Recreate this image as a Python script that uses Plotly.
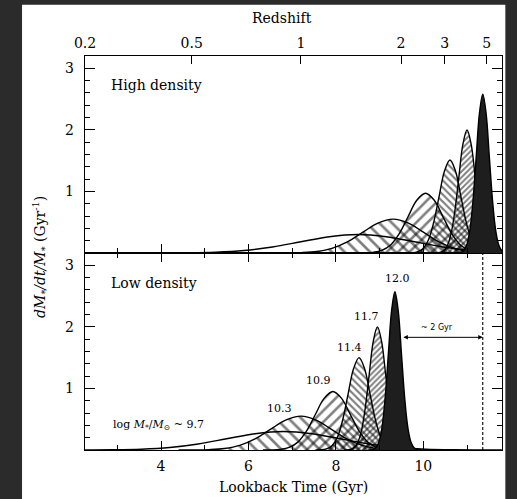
import plotly.graph_objects as go

# ---------------- data ----------------
mass_labels = ["9.7", "10.3", "10.9", "11.4", "11.7", "12.0"]

# Low density panel: lookback time (Gyr) and dM*/dt/M* (Gyr^-1)
low_t_97 = [1.6, 2.25, 2.9, 3.55, 4.2, 4.85, 5.5, 6.15, 6.8, 7.45, 8.1, 8.75, 9.4, 10.05, 10.7, 11.35, 12.0]
low_v_97 = [0.0, 0.001, 0.003, 0.013, 0.041, 0.098, 0.182, 0.265, 0.30, 0.265, 0.182, 0.098, 0.041, 0.013, 0.003, 0.001, 0.0]
low_t_103 = [4.4, 4.75, 5.1, 5.45, 5.8, 6.15, 6.5, 6.85, 7.2, 7.55, 7.9, 8.25, 8.6, 8.95, 9.3, 9.65, 10.0]
low_v_103 = [0.0, 0.001, 0.006, 0.024, 0.074, 0.179, 0.334, 0.485, 0.55, 0.485, 0.334, 0.179, 0.074, 0.024, 0.006, 0.001, 0.0]
low_t_109 = [6.33, 6.53, 6.73, 6.93, 7.13, 7.33, 7.53, 7.73, 7.93, 8.13, 8.33, 8.53, 8.73, 8.93, 9.13, 9.33, 9.53]
low_v_109 = [0.0, 0.002, 0.011, 0.042, 0.128, 0.309, 0.577, 0.838, 0.95, 0.838, 0.577, 0.309, 0.128, 0.042, 0.011, 0.002, 0.0]
low_t_114 = [7.53, 7.655, 7.78, 7.905, 8.03, 8.155, 8.28, 8.405, 8.53, 8.655, 8.78, 8.905, 9.03, 9.155, 9.28, 9.405, 9.53]
low_v_114 = [0.0, 0.003, 0.017, 0.066, 0.203, 0.488, 0.911, 1.323, 1.5, 1.323, 0.911, 0.488, 0.203, 0.066, 0.017, 0.003, 0.0]
low_t_117 = [8.19, 8.285, 8.38, 8.475, 8.57, 8.665, 8.76, 8.855, 8.95, 9.045, 9.14, 9.235, 9.33, 9.425, 9.52, 9.615, 9.71]
low_v_117 = [0.001, 0.004, 0.022, 0.088, 0.27, 0.65, 1.214, 1.764, 2.0, 1.764, 1.214, 0.65, 0.27, 0.088, 0.022, 0.004, 0.001]
low_t_120 = [8.75, 8.825, 8.9, 8.975, 9.05, 9.125, 9.2, 9.275, 9.35, 9.425, 9.5, 9.575, 9.65, 9.725, 9.8, 9.875, 9.95]
low_v_120 = [0.001, 0.006, 0.028, 0.113, 0.347, 0.835, 1.56, 2.267, 2.57, 2.267, 1.56, 0.835, 0.347, 0.113, 0.028, 0.006, 0.001]

# High density panel
high_t_97 = [3.3, 3.95, 4.6, 5.25, 5.9, 6.55, 7.2, 7.85, 8.5, 9.15, 9.8, 10.45, 11.1, 11.75, 12.4]
high_v_97 = [0.0, 0.001, 0.003, 0.013, 0.041, 0.098, 0.182, 0.265, 0.30, 0.265, 0.182, 0.098, 0.041, 0.013, 0.003]
high_t_103 = [6.51, 6.86, 7.21, 7.56, 7.91, 8.26, 8.61, 8.96, 9.31, 9.66, 10.01, 10.36, 10.71, 11.06, 11.41, 11.76, 12.11]
high_v_103 = [0.0, 0.001, 0.006, 0.024, 0.074, 0.179, 0.334, 0.485, 0.55, 0.485, 0.334, 0.179, 0.074, 0.024, 0.006, 0.001, 0.0]
high_t_109 = [8.45, 8.65, 8.85, 9.05, 9.25, 9.45, 9.65, 9.85, 10.05, 10.25, 10.45, 10.65, 10.85, 11.05, 11.25, 11.45, 11.65]
high_v_109 = [0.0, 0.002, 0.011, 0.043, 0.131, 0.315, 0.589, 0.856, 0.97, 0.856, 0.589, 0.315, 0.131, 0.043, 0.011, 0.002, 0.0]
high_t_114 = [9.61, 9.735, 9.86, 9.985, 10.11, 10.235, 10.36, 10.485, 10.61, 10.735, 10.86, 10.985, 11.11, 11.235, 11.36, 11.485, 11.61]
high_v_114 = [0.0, 0.003, 0.017, 0.066, 0.204, 0.491, 0.917, 1.332, 1.51, 1.332, 0.917, 0.491, 0.204, 0.066, 0.017, 0.003, 0.0]
high_t_117 = [10.24, 10.335, 10.43, 10.525, 10.62, 10.715, 10.81, 10.905, 11.0, 11.095, 11.19, 11.285, 11.38, 11.475, 11.57, 11.665, 11.76]
high_v_117 = [0.001, 0.004, 0.022, 0.088, 0.27, 0.65, 1.214, 1.764, 2.0, 1.764, 1.214, 0.65, 0.27, 0.088, 0.022, 0.004, 0.001]
high_t_120 = [10.76, 10.835, 10.91, 10.985, 11.06, 11.135, 11.21, 11.285, 11.36, 11.435, 11.51, 11.585, 11.66, 11.735, 11.81, 11.885, 11.96]
high_v_120 = [0.001, 0.006, 0.028, 0.113, 0.348, 0.838, 1.566, 2.276, 2.58, 2.276, 1.566, 0.838, 0.348, 0.113, 0.028, 0.006, 0.001]

# Axes
lookback_ticks = [4, 6, 8, 10]
y_ticks = [1, 2, 3]
redshift_labels = ["0.2", "0.5", "1", "2", "3", "5"]
redshift_lookback = [2.262, 4.70, 7.20, 9.49, 10.49, 11.45]

# Label positions (lookback, rate) in low-density panel
mass_label_t = [2.86, 6.72, 7.61, 8.30, 8.69, 9.40]
mass_label_v = [0.40, 0.68, 1.13, 1.67, 2.17, 2.79]
peak_offset_start = 9.51   # arrow start (Gyr)
peak_offset_end = 11.36    # dashed line (Gyr)
arrow_level = 1.83

# ---------------- styles ----------------
SERIF = "DejaVu Serif"
fills = [
    dict(fillpattern=None, fillcolor="rgba(0,0,0,0)"),
    dict(fillpattern=dict(shape="\\", size=9, solidity=0.3, fgcolor="black")),
    dict(fillpattern=dict(shape="/", size=8, solidity=0.32, fgcolor="black")),
    dict(fillpattern=dict(shape="\\", size=5, solidity=0.42, fgcolor="black")),
    dict(fillpattern=dict(shape="/", size=4, solidity=0.48, fgcolor="black")),
    dict(fillpattern=None, fillcolor="#1e1e1e"),
]

low = [(low_t_97, low_v_97), (low_t_103, low_v_103), (low_t_109, low_v_109),
       (low_t_114, low_v_114), (low_t_117, low_v_117), (low_t_120, low_v_120)]
high = [(high_t_97, high_v_97), (high_t_103, high_v_103), (high_t_109, high_v_109),
        (high_t_114, high_v_114), (high_t_117, high_v_117), (high_t_120, high_v_120)]

fig = go.Figure()
for panel, (xa, ya) in ((low, ("x", "y")), (high, ("x2", "y2"))):
    for i, (t, v) in enumerate(panel):
        kw = dict(x=t, y=v, xaxis=xa, yaxis=ya, mode="lines", fill="tozeroy",
                  line=dict(color="black", width=1.4, shape="spline", smoothing=1.0),
                  showlegend=False, hoverinfo="skip", name=mass_labels[i])
        f = fills[i]
        if f.get("fillpattern"):
            kw["fillpattern"] = f["fillpattern"]
            kw["fillcolor"] = "rgba(0,0,0,0)"
        else:
            kw["fillcolor"] = f["fillcolor"]
        fig.add_trace(go.Scatter(**kw))

xr = [2.26, 11.8]
yr = [0, 3.2]

# invisible trace so the redshift axis is drawn
fig.add_trace(go.Scatter(x=[redshift_lookback[1]], y=[None], xaxis="x3", yaxis="y2",
                         mode="markers", showlegend=False, hoverinfo="skip"))

axis_common = dict(showline=True, linecolor="black", linewidth=1.4, showgrid=False,
                   zeroline=False, ticks="inside", tickcolor="black", tickwidth=1.2,
                   tickfont=dict(family=SERIF, size=14, color="black"))

fig.update_layout(
    width=517, height=499,
    margin=dict(l=85, r=15, t=56, b=49),
    paper_bgcolor="#2b2b2b", plot_bgcolor="white",
    font=dict(family=SERIF, color="black"),
    xaxis=dict(domain=[0, 1], anchor="y", range=xr, tickvals=lookback_ticks, ticklen=9,
               minor=dict(dtick=1, tick0=0, ticklen=5, ticks="inside", tickcolor="black", tickwidth=1.2),
               mirror="ticks", ticklabelstandoff=3, **axis_common),
    yaxis=dict(domain=[0, 0.5], anchor="x", range=yr, tickvals=y_ticks, ticklen=10,
               minor=dict(dtick=0.2, tick0=0, ticklen=5, ticks="inside", tickcolor="black", tickwidth=1.2),
               mirror="ticks", ticklabelstandoff=7, **axis_common),
    xaxis2=dict(domain=[0, 1], anchor="y2", range=xr, matches="x", tickvals=lookback_ticks, ticklen=9,
                showticklabels=False,
                minor=dict(dtick=1, tick0=0, ticklen=5, ticks="inside", tickcolor="black", tickwidth=1.2),
                mirror=True, **axis_common),
    yaxis2=dict(domain=[0.5, 1], anchor="x2", range=yr, tickvals=y_ticks, ticklen=10,
                minor=dict(dtick=0.2, tick0=0, ticklen=5, ticks="inside", tickcolor="black", tickwidth=1.2),
                mirror="ticks", ticklabelstandoff=7, **axis_common),
    xaxis3=dict(overlaying="x2", anchor="y2", side="top", range=xr,
                tickmode="array", tickvals=redshift_lookback, ticktext=redshift_labels, ticklen=8,
                ticklabelstandoff=4, showticklabels=True,
                showline=False, showgrid=False, zeroline=False, ticks="inside",
                tickcolor="black", tickwidth=1.2,
                tickfont=dict(family=SERIF, size=14, color="black")),
)

# white figure sheet on dark page
fig.add_shape(type="rect", xref="paper", yref="paper", x0=-0.151, x1=1.008, y0=-0.14, y1=1.13,
              fillcolor="white", line=dict(width=0), layer="below")

# dashed line in low-density panel
fig.add_shape(type="line", xref="x", yref="y", x0=peak_offset_end, x1=peak_offset_end, y0=yr[0], y1=yr[1],
              line=dict(color="black", width=1.1, dash="3px,2px"))

ann = []
def note(**kw):
    kw.setdefault("showarrow", False)
    kw.setdefault("xanchor", "center")
    kw.setdefault("yanchor", "middle")
    ann.append(kw)

note(text="Redshift", xref="paper", yref="paper", x=0.472, y=1.0964, font=dict(size=14, family=SERIF))
note(text="Lookback Time (Gyr)", xref="paper", yref="paper", x=0.5, y=-0.094, font=dict(size=14, family=SERIF))
note(text="<i>dM</i><sub>*</sub><i>/dt/M</i><sub>*</sub> (Gyr<sup>-1</sup>)",
     xref="paper", yref="paper", x=-0.108, y=0.49, textangle=-90, font=dict(size=14, family=SERIF))
note(text="High density", xref="x2", yref="y2", x=2.81, y=2.73, xanchor="left", font=dict(size=14, family=SERIF))
note(text="Low density", xref="x", yref="y", x=2.81, y=2.71, xanchor="left", font=dict(size=14, family=SERIF))
note(text="log <i>M</i><sub>*</sub>/<i>M</i><sub>⊙</sub> ~ " + mass_labels[0],
     xref="x", yref="y", x=mass_label_t[0], y=mass_label_v[0], xanchor="left", font=dict(size=11, family=SERIF))
for i in range(1, 6):
    note(text=mass_labels[i], xref="x", yref="y", x=mass_label_t[i], y=mass_label_v[i],
         font=dict(size=11, family=SERIF))
note(text="~ 2 Gyr", xref="x", yref="y", x=(peak_offset_start + peak_offset_end) / 2 - 0.12,
     y=arrow_level + 0.16, font=dict(size=8, family="DejaVu Sans"))
ann.append(dict(text="", xref="x", yref="y", axref="x", ayref="y",
                x=peak_offset_end, y=arrow_level, ax=peak_offset_start, ay=arrow_level,
                showarrow=True, arrowhead=2, startarrowhead=2, arrowside="end+start",
                arrowsize=0.9, arrowwidth=1, arrowcolor="black"))
fig.update_layout(annotations=ann)

fig.write_html("out.html", config={"displayModeBar": False})

# remove default page margin so the figure sits at the window origin
with open("out.html", "r", encoding="utf-8") as fh:
    html = fh.read()
html = html.replace("<head>", "<head><style>html,body{margin:0;padding:0;overflow:hidden;background:#2b2b2b}</style>", 1)
with open("out.html", "w", encoding="utf-8") as fh:
    fh.write(html)
